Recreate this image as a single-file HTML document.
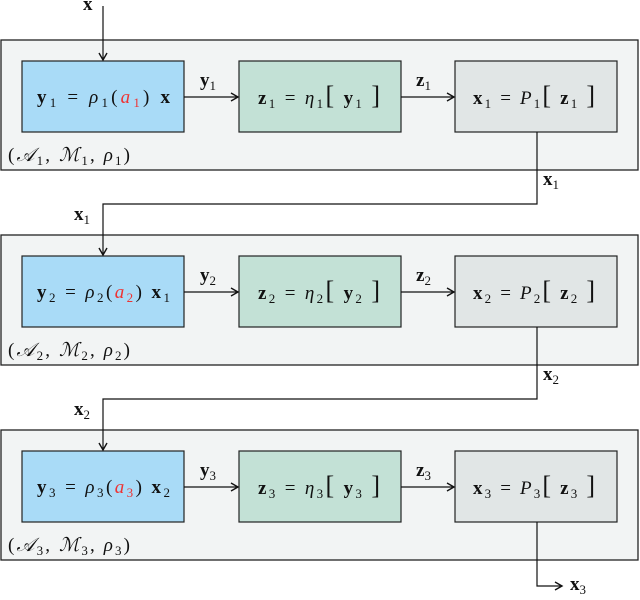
<!DOCTYPE html>
<html><head><meta charset="utf-8"><style>
body{margin:0;background:#fff}
text{font-family:"Liberation Serif",serif;font-size:19px;fill:#111}
.b{font-weight:bold}
.i{font-style:italic}
.s{font-size:13px;font-weight:normal;font-style:normal}
.k{font-size:26px}
</style></head><body>
<svg width="640" height="595" viewBox="0 0 640 595" xmlns="http://www.w3.org/2000/svg">
<defs><marker id="a" markerWidth="10" markerHeight="10" refX="8" refY="5" orient="auto" markerUnits="userSpaceOnUse"><path d="M1,1 L8,5 L1,9" fill="none" stroke="#111" stroke-width="1.4"/></marker></defs>
<g stroke="#222" stroke-width="1.3">
<rect x="1" y="40" width="637" height="130" fill="#f2f4f4"/>
<rect x="1" y="235" width="637" height="130" fill="#f2f4f4"/>
<rect x="1" y="430" width="637" height="130" fill="#f2f4f4"/>
</g>
<g stroke="#222" stroke-width="1.2">
<rect x="22" y="61" width="162" height="71" fill="#a9dbf7"/>
<rect x="239" y="61" width="162" height="71" fill="#c3e1d6"/>
<rect x="455" y="61" width="162" height="71" fill="#e1e6e6"/>
<rect x="22" y="256" width="162" height="71" fill="#a9dbf7"/>
<rect x="239" y="256" width="162" height="71" fill="#c3e1d6"/>
<rect x="455" y="256" width="162" height="71" fill="#e1e6e6"/>
<rect x="22" y="451" width="162" height="71" fill="#a9dbf7"/>
<rect x="239" y="451" width="162" height="71" fill="#c3e1d6"/>
<rect x="455" y="451" width="162" height="71" fill="#e1e6e6"/>
</g>
<g stroke="#111" stroke-width="1.2" fill="none" marker-end="url(#a)">
<path d="M103,6 V60"/>
<path d="M184,97 H238"/><path d="M401,97 H454"/>
<path d="M537,132 V204 H103 V255"/>
<path d="M184,292 H238"/><path d="M401,292 H454"/>
<path d="M537,327 V399 H103 V450"/>
<path d="M184,487 H238"/><path d="M401,487 H454"/>
<path d="M537,522 V586 H562"/>
</g>
<text x="83" y="10" class="b">x</text>
<text x="74" y="220" class="b">x<tspan class="s" baseline-shift="-4">1</tspan></text>
<text x="74" y="415" class="b">x<tspan class="s" baseline-shift="-4">2</tspan></text>
<text x="543" y="185" class="b">x<tspan class="s" baseline-shift="-4">1</tspan></text>
<text x="543" y="380" class="b">x<tspan class="s" baseline-shift="-4">2</tspan></text>
<text x="570" y="590" class="b">x<tspan class="s" baseline-shift="-4">3</tspan></text>
<g>
<text x="200" y="86" class="b">y<tspan class="s" baseline-shift="-4">1</tspan></text>
<text x="416" y="86" class="b">z<tspan class="s" baseline-shift="-4">1</tspan></text>
<text x="37" y="103" textLength="133" lengthAdjust="spacing"><tspan class="b">y</tspan><tspan class="s" baseline-shift="-4">1</tspan> = <tspan class="i">ρ</tspan><tspan class="s" baseline-shift="-4">1</tspan>(<tspan class="i" fill="#e33">a</tspan><tspan class="s" fill="#e33" baseline-shift="-4">1</tspan>) <tspan class="b">x</tspan></text>
<text x="258" y="104" textLength="122" lengthAdjust="spacing"><tspan class="b">z</tspan><tspan class="s" baseline-shift="-4">1</tspan> = <tspan class="i">η</tspan><tspan class="s" baseline-shift="-4">1</tspan><tspan class="k">[</tspan> <tspan class="b">y</tspan><tspan class="s" baseline-shift="-4">1</tspan> <tspan class="k">]</tspan></text>
<text x="473" y="104" textLength="122" lengthAdjust="spacing"><tspan class="b">x</tspan><tspan class="s" baseline-shift="-4">1</tspan> = <tspan class="i">P</tspan><tspan class="s" baseline-shift="-4">1</tspan><tspan class="k">[</tspan> <tspan class="b">z</tspan><tspan class="s" baseline-shift="-4">1</tspan> <tspan class="k">]</tspan></text>
<text x="8" y="161" textLength="122" lengthAdjust="spacing">(<tspan class="i">𝒜</tspan><tspan class="s" baseline-shift="-4">1</tspan>, <tspan class="i">ℳ</tspan><tspan class="s" baseline-shift="-4">1</tspan>, <tspan class="i">ρ</tspan><tspan class="s" baseline-shift="-4">1</tspan>)</text>
</g>
<g transform="translate(0,195)">
<text x="200" y="86" class="b">y<tspan class="s" baseline-shift="-4">2</tspan></text>
<text x="416" y="86" class="b">z<tspan class="s" baseline-shift="-4">2</tspan></text>
<text x="37" y="103" textLength="133" lengthAdjust="spacing"><tspan class="b">y</tspan><tspan class="s" baseline-shift="-4">2</tspan> = <tspan class="i">ρ</tspan><tspan class="s" baseline-shift="-4">2</tspan>(<tspan class="i" fill="#e33">a</tspan><tspan class="s" fill="#e33" baseline-shift="-4">2</tspan>) <tspan class="b">x</tspan><tspan class="s" baseline-shift="-4">1</tspan></text>
<text x="258" y="104" textLength="122" lengthAdjust="spacing"><tspan class="b">z</tspan><tspan class="s" baseline-shift="-4">2</tspan> = <tspan class="i">η</tspan><tspan class="s" baseline-shift="-4">2</tspan><tspan class="k">[</tspan> <tspan class="b">y</tspan><tspan class="s" baseline-shift="-4">2</tspan> <tspan class="k">]</tspan></text>
<text x="473" y="104" textLength="122" lengthAdjust="spacing"><tspan class="b">x</tspan><tspan class="s" baseline-shift="-4">2</tspan> = <tspan class="i">P</tspan><tspan class="s" baseline-shift="-4">2</tspan><tspan class="k">[</tspan> <tspan class="b">z</tspan><tspan class="s" baseline-shift="-4">2</tspan> <tspan class="k">]</tspan></text>
<text x="8" y="161" textLength="122" lengthAdjust="spacing">(<tspan class="i">𝒜</tspan><tspan class="s" baseline-shift="-4">2</tspan>, <tspan class="i">ℳ</tspan><tspan class="s" baseline-shift="-4">2</tspan>, <tspan class="i">ρ</tspan><tspan class="s" baseline-shift="-4">2</tspan>)</text>
</g>
<g transform="translate(0,390)">
<text x="200" y="86" class="b">y<tspan class="s" baseline-shift="-4">3</tspan></text>
<text x="416" y="86" class="b">z<tspan class="s" baseline-shift="-4">3</tspan></text>
<text x="37" y="103" textLength="133" lengthAdjust="spacing"><tspan class="b">y</tspan><tspan class="s" baseline-shift="-4">3</tspan> = <tspan class="i">ρ</tspan><tspan class="s" baseline-shift="-4">3</tspan>(<tspan class="i" fill="#e33">a</tspan><tspan class="s" fill="#e33" baseline-shift="-4">3</tspan>) <tspan class="b">x</tspan><tspan class="s" baseline-shift="-4">2</tspan></text>
<text x="258" y="104" textLength="122" lengthAdjust="spacing"><tspan class="b">z</tspan><tspan class="s" baseline-shift="-4">3</tspan> = <tspan class="i">η</tspan><tspan class="s" baseline-shift="-4">3</tspan><tspan class="k">[</tspan> <tspan class="b">y</tspan><tspan class="s" baseline-shift="-4">3</tspan> <tspan class="k">]</tspan></text>
<text x="473" y="104" textLength="122" lengthAdjust="spacing"><tspan class="b">x</tspan><tspan class="s" baseline-shift="-4">3</tspan> = <tspan class="i">P</tspan><tspan class="s" baseline-shift="-4">3</tspan><tspan class="k">[</tspan> <tspan class="b">z</tspan><tspan class="s" baseline-shift="-4">3</tspan> <tspan class="k">]</tspan></text>
<text x="8" y="161" textLength="122" lengthAdjust="spacing">(<tspan class="i">𝒜</tspan><tspan class="s" baseline-shift="-4">3</tspan>, <tspan class="i">ℳ</tspan><tspan class="s" baseline-shift="-4">3</tspan>, <tspan class="i">ρ</tspan><tspan class="s" baseline-shift="-4">3</tspan>)</text>
</g>
</svg>
</body></html>
